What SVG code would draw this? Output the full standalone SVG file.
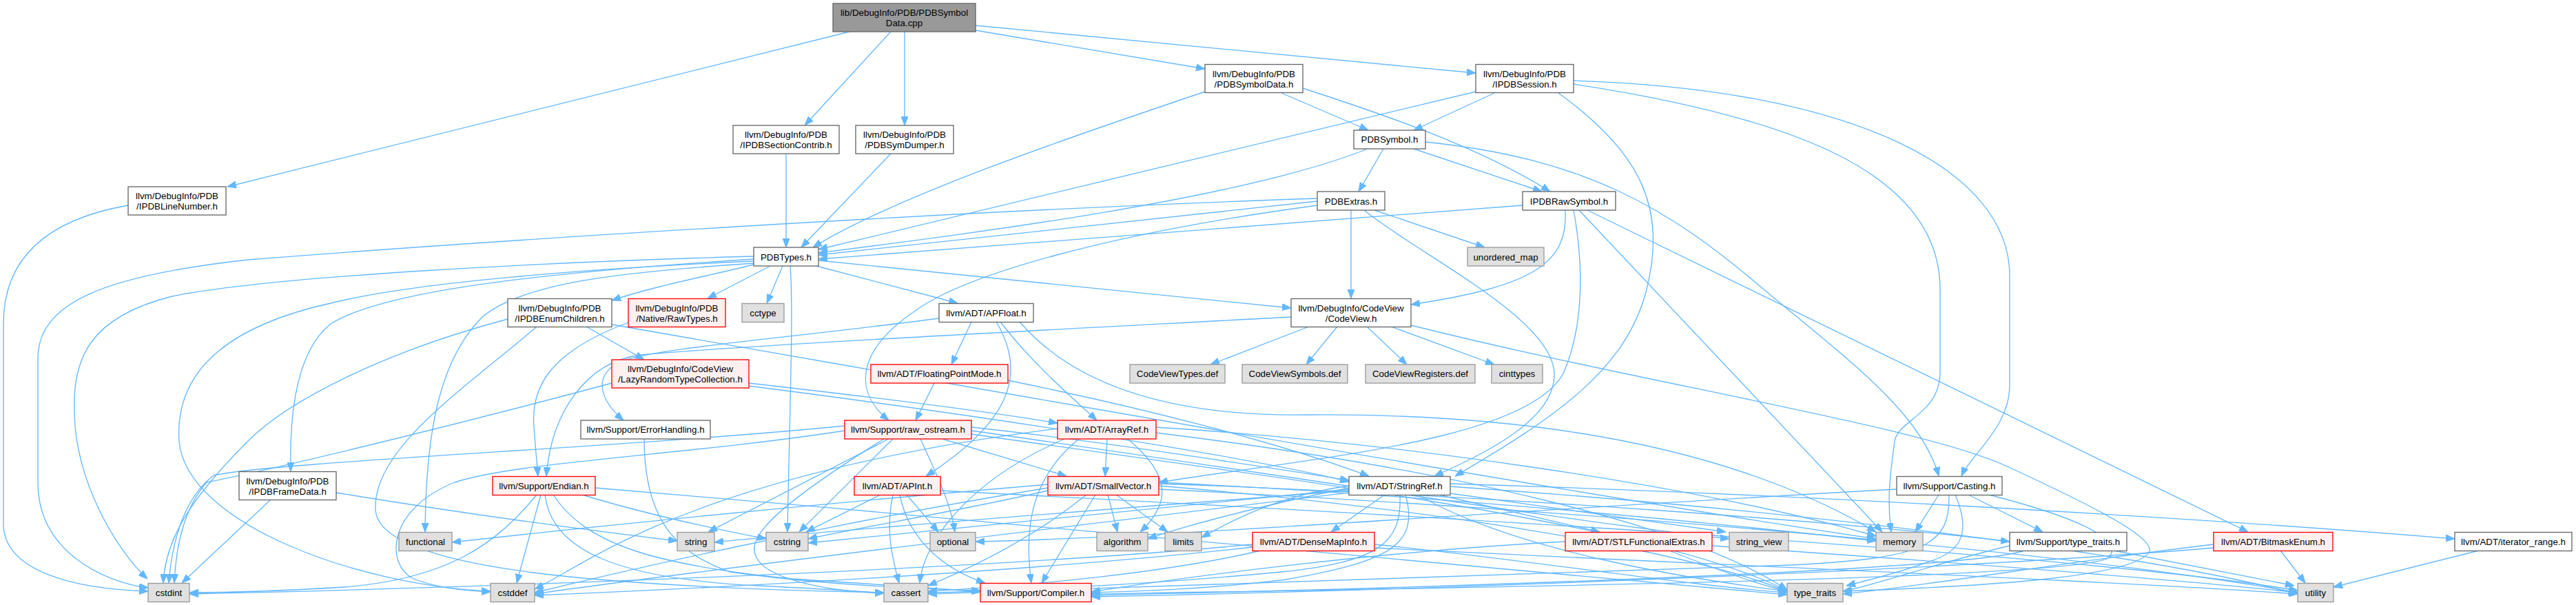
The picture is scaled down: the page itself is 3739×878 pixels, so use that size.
<svg xmlns="http://www.w3.org/2000/svg" width="3739" height="878" viewBox="0 0 3739 878">
<style>
.n rect{fill:#ffffff;stroke:#666666;stroke-width:1.33}
.g rect{fill:#e0e0e0;stroke:#999999;stroke-width:1.33}
.r rect{fill:#fff0f0;stroke:#ff0000;stroke-width:1.33}
.root rect{fill:#999999;stroke:#666666;stroke-width:1.33}
text{font-family:"Liberation Sans",Arial,Helvetica,sans-serif;font-size:13.33px;text-anchor:middle;fill:#000000}
#edges path{fill:none;stroke:#63b8ff;stroke-width:1.33;marker-end:url(#a)}
</style>
<defs>
<marker id="a" viewBox="0 0 13 10" refX="13" refY="5" markerWidth="13" markerHeight="10" markerUnits="userSpaceOnUse" orient="auto"><path d="M0,0 L13,5 L0,10 Z" fill="#63b8ff" stroke="#63b8ff" stroke-width="1"/></marker>
</defs>
<rect x="0" y="0" width="3739" height="878" fill="#ffffff"/>
<g id="edges">
<path d="M1233,46 L330,271"/>
<path d="M1293,46 L1168,182"/>
<path d="M1313,46 L1313,182"/>
<path d="M1416,44 L1749,100"/>
<path d="M1416,37 L2142,106"/>
<path d="M186,298 C60,320 5,380 5,470 L5,760 C5,830 110,855 215,858"/>
<path d="M1141,223 L1141,359"/>
<path d="M1293,223 L1163,359"/>
<path d="M1749,133 C1550,200 1300,285 1180,359"/>
<path d="M1860,135 L1986,189"/>
<path d="M1891,128 C2020,170 2150,215 2250,278"/>
<path d="M2142,133 L1188,362"/>
<path d="M2169,135 L2052,189"/>
<path d="M2262,135 C2380,220 2420,300 2390,420 C2360,540 2250,610 2112,691"/>
<path d="M2284,122 C2600,170 2816,250 2816,420 L2816,540 C2816,600 2755,610 2750,640 C2745,680 2738,720 2745,772"/>
<path d="M2284,117 C2700,130 2917,250 2917,400 L2917,560 C2917,620 2860,660 2847,691"/>
<path d="M1985,216 C1800,290 1400,340 1188,367"/>
<path d="M2008,216 L1972,278"/>
<path d="M2052,216 L2238,278"/>
<path d="M2069,206 C2300,230 2420,300 2560,420 C2680,520 2790,600 2814,691"/>
<path d="M1912,292 L1188,370"/>
<path d="M1912,298 C1600,340 1400,400 1330,450 C1240,510 1240,570 1290,610"/>
<path d="M1912,288 C1400,305 700,350 360,377 C150,400 55,440 55,520 L55,700 C55,800 150,845 215,853"/>
<path d="M1961,305 L1961,433"/>
<path d="M1980,305 C2060,370 2250,460 2256,540 C2260,610 2150,660 2082,691"/>
<path d="M1995,305 L2155,359"/>
<path d="M2210,298 L1188,376"/>
<path d="M2272,305 C2276,380 2230,415 2048,442"/>
<path d="M2284,305 C2298,380 2300,470 2270,540 C2220,640 1900,665 1682,700"/>
<path d="M2292,305 L2732,772"/>
<path d="M2304,305 L3263,772"/>
<path d="M1094,384 C1030,400 950,415 888,436"/>
<path d="M1118,386 L1027,433"/>
<path d="M1136,386 L1113,440"/>
<path d="M1147,386 C1152,450 1146,600 1143,772"/>
<path d="M1185,386 L1390,440"/>
<path d="M1188,378 L1874,447"/>
<path d="M1094,376 C800,395 560,420 480,470 C430,510 420,600 422,684"/>
<path d="M1094,382 C900,395 760,410 700,460 C640,520 618,620 617,772"/>
<path d="M1094,372 C800,380 400,400 250,430 C130,460 105,520 108,600 C110,700 170,800 214,840"/>
<path d="M1094,379 C850,390 600,410 480,440 C300,480 255,560 260,640 C270,760 520,850 712,858"/>
<path d="M737,463 C560,510 420,580 360,640 C280,720 240,780 237,846"/>
<path d="M779,474 C680,560 540,650 545,740 C550,830 900,852 1283,860"/>
<path d="M851,474 L935,522"/>
<path d="M888,471 C1400,560 2300,720 2723,782"/>
<path d="M912,468 C800,510 770,560 775,620 C778,660 780,680 781,691"/>
<path d="M1900,474 L1757,529"/>
<path d="M1941,474 L1896,529"/>
<path d="M1984,474 L2042,529"/>
<path d="M2019,474 L2169,529"/>
<path d="M1874,460 C1500,480 1100,500 930,515 C850,525 800,600 793,691"/>
<path d="M2048,472 C2400,560 2800,620 2920,680 C3050,740 3125,780 3120,800 C3100,840 2850,852 2675,858"/>
<path d="M1410,467 L1381,529"/>
<path d="M1446,467 C1490,540 1470,610 1344,691"/>
<path d="M1452,467 C1500,530 1560,580 1592,610"/>
<path d="M1363,462 C1150,490 950,505 900,525 C860,545 870,580 905,610"/>
<path d="M1480,467 C1560,560 1700,605 1900,602 C2200,600 2500,640 2723,772"/>
<path d="M1356,556 L1329,610"/>
<path d="M1463,552 C1650,590 1850,640 1987,691"/>
<path d="M935,637 C935,740 970,800 1060,830 C1200,850 1350,855 1423,857"/>
<path d="M1368,637 L1548,691"/>
<path d="M1290,637 L1028,772"/>
<path d="M1296,637 L1160,772"/>
<path d="M1336,637 C1360,690 1380,730 1386,772"/>
<path d="M1283,637 C1150,720 1090,770 1095,800 C1100,840 1200,858 1283,861"/>
<path d="M1226,618 C900,650 400,670 310,690 C270,720 250,780 245,846"/>
<path d="M1226,625 C1000,660 750,670 660,700 C560,740 560,820 600,840 C640,855 680,858 712,859"/>
<path d="M1410,620 C1600,640 1850,680 1958,697"/>
<path d="M1410,625 C1800,680 2300,760 2510,782"/>
<path d="M1410,630 C1900,700 2400,760 2594,857"/>
<path d="M1607,637 L1604,691"/>
<path d="M1566,637 C1500,690 1485,760 1497,846"/>
<path d="M1637,637 C1700,690 1700,730 1655,772"/>
<path d="M1535,622 C1000,690 850,820 776,855"/>
<path d="M1545,637 C1400,700 1340,790 1335,846"/>
<path d="M1678,620 C2000,640 2450,700 2723,778"/>
<path d="M1678,628 C2100,680 2450,760 2594,856"/>
<path d="M1278,718 L1170,772"/>
<path d="M1316,718 L1362,772"/>
<path d="M1296,718 C1285,770 1295,810 1305,846"/>
<path d="M1306,718 C1320,790 1380,830 1430,846"/>
<path d="M1365,712 C2000,745 3000,800 3335,857"/>
<path d="M1608,718 L1622,772"/>
<path d="M1620,718 L1695,772"/>
<path d="M1590,718 L1512,846"/>
<path d="M1577,718 C1500,780 1420,820 1347,850"/>
<path d="M1521,712 C1400,740 1250,765 1173,782"/>
<path d="M1521,708 C1200,760 900,830 776,860"/>
<path d="M1521,703 C1200,730 900,760 656,787"/>
<path d="M1682,700 C2100,720 2500,760 2723,785"/>
<path d="M1682,705 C2100,740 2450,800 2594,858"/>
<path d="M1682,710 C2300,740 3000,800 3335,860"/>
<path d="M1682,702 C2200,720 2700,760 2917,786"/>
<path d="M2010,718 L1932,772"/>
<path d="M2088,718 L2322,772"/>
<path d="M2105,716 L2505,772"/>
<path d="M2058,718 C2200,800 2450,840 2594,858"/>
<path d="M2105,706 C2600,740 3100,800 3335,862"/>
<path d="M2105,702 C2700,720 3300,760 3563,782"/>
<path d="M1958,705 C1850,720 1780,760 1744,780"/>
<path d="M1958,708 C1800,740 1700,770 1666,782"/>
<path d="M1958,712 C1600,740 1200,770 1037,787"/>
<path d="M1958,710 C1600,745 1300,775 1173,788"/>
<path d="M1958,715 C1500,770 1000,830 776,862"/>
<path d="M2032,718 C2035,790 2000,815 1860,830 C1650,850 1450,858 1347,860"/>
<path d="M2040,718 C2060,790 2020,815 1860,842 C1750,855 1650,858 1584,860"/>
<path d="M2857,718 L2965,772"/>
<path d="M2753,710 C2200,740 1700,780 1416,786"/>
<path d="M2814,718 L2780,772"/>
<path d="M2829,718 C2830,790 2800,810 2600,820 C2100,840 1600,855 1347,862"/>
<path d="M2838,718 C2860,770 2850,800 2800,815 C2760,830 2700,845 2680,850"/>
<path d="M2887,718 C3050,760 3080,790 3060,810 C3000,840 2200,852 1584,862"/>
<path d="M1995,790 C2200,810 2450,850 2594,860"/>
<path d="M1995,795 C2500,820 3100,845 3335,862"/>
<path d="M1818,790 C1400,830 600,855 275,862"/>
<path d="M1818,794 C1500,830 1000,855 776,864"/>
<path d="M1830,799 C1700,830 1500,850 1347,858"/>
<path d="M2423,799 C2500,830 2560,850 2594,858"/>
<path d="M2485,792 C2900,820 3200,845 3335,860"/>
<path d="M2272,786 C2000,800 1700,840 1584,859"/>
<path d="M3068,799 L3330,850"/>
<path d="M2917,792 C2800,820 2720,850 2675,858"/>
<path d="M2938,799 C2850,830 2000,855 1584,864"/>
<path d="M3310,799 L3346,846"/>
<path d="M3213,790 C3000,815 2800,850 2675,862"/>
<path d="M3213,795 C2800,830 2000,858 1584,866"/>
<path d="M3598,799 L3387,852"/>
<path d="M779,718 C720,790 650,840 500,852 C400,858 320,860 275,860"/>
<path d="M785,718 L750,846"/>
<path d="M791,718 C800,800 900,840 1100,850 C1200,855 1250,858 1283,861"/>
<path d="M803,718 C850,790 950,820 1150,840 C1300,850 1380,855 1423,859"/>
<path d="M845,718 C950,750 1050,770 1112,782"/>
<path d="M864,708 C1500,760 2200,830 2594,863"/>
<path d="M393,725 L264,846"/>
<path d="M488,715 C700,750 900,775 983,785"/>
<path d="M1087,556 C1300,580 1450,600 1535,614"/>
<path d="M888,556 C650,620 400,680 300,700 C265,740 255,800 253,846"/>
<path d="M1087,560 C1400,600 1800,660 1958,699"/>
</g>
<g id="node-root" class="root"><rect x="1209" y="5" width="207" height="41"/><text x="1312.5" y="23">lib/DebugInfo/PDB/PDBSymbol</text><text x="1312.5" y="38">Data.cpp</text></g>
<g id="node-PDBSymbolData" class="n"><rect x="1749" y="93.5" width="142" height="41"/><text x="1820" y="111.5">llvm/DebugInfo/PDB</text><text x="1820" y="126.5">/PDBSymbolData.h</text></g>
<g id="node-IPDBSession" class="n"><rect x="2142" y="93.5" width="142" height="41"/><text x="2213" y="111.5">llvm/DebugInfo/PDB</text><text x="2213" y="126.5">/IPDBSession.h</text></g>
<g id="node-IPDBSectionContrib" class="n"><rect x="1064" y="182" width="154" height="41"/><text x="1141" y="200">llvm/DebugInfo/PDB</text><text x="1141" y="215">/IPDBSectionContrib.h</text></g>
<g id="node-PDBSymDumper" class="n"><rect x="1242" y="182" width="142" height="41"/><text x="1313" y="200">llvm/DebugInfo/PDB</text><text x="1313" y="215">/PDBSymDumper.h</text></g>
<g id="node-PDBSymbol" class="n"><rect x="1965" y="189" width="104" height="27"/><text x="2017" y="207">PDBSymbol.h</text></g>
<g id="node-IPDBLineNumber" class="n"><rect x="186" y="271" width="142" height="41"/><text x="257" y="289">llvm/DebugInfo/PDB</text><text x="257" y="304">/IPDBLineNumber.h</text></g>
<g id="node-PDBExtras" class="n"><rect x="1912" y="278" width="98" height="27"/><text x="1961" y="296.5">PDBExtras.h</text></g>
<g id="node-IPDBRawSymbol" class="n"><rect x="2210" y="278" width="135" height="27"/><text x="2277.5" y="296.5">IPDBRawSymbol.h</text></g>
<g id="node-PDBTypes" class="n"><rect x="1094" y="359" width="94" height="27"/><text x="1141" y="377.5">PDBTypes.h</text></g>
<g id="node-unordered_map" class="g"><rect x="2130" y="359" width="111" height="27"/><text x="2185.5" y="377.5">unordered_map</text></g>
<g id="node-IPDBEnumChildren" class="n"><rect x="737" y="433.5" width="151" height="41"/><text x="812.5" y="451.5">llvm/DebugInfo/PDB</text><text x="812.5" y="466.5">/IPDBEnumChildren.h</text></g>
<g id="node-RawTypes" class="r"><rect x="912" y="433.5" width="141" height="41"/><text x="982.5" y="451.5">llvm/DebugInfo/PDB</text><text x="982.5" y="466.5">/Native/RawTypes.h</text></g>
<g id="node-cctype" class="g"><rect x="1077" y="440.5" width="61" height="27"/><text x="1107.5" y="458.5">cctype</text></g>
<g id="node-APFloat" class="n"><rect x="1363" y="440.5" width="137" height="27"/><text x="1431.5" y="458.5">llvm/ADT/APFloat.h</text></g>
<g id="node-CodeView" class="n"><rect x="1874" y="433.5" width="174" height="41"/><text x="1961" y="451.5">llvm/DebugInfo/CodeView</text><text x="1961" y="466.5">/CodeView.h</text></g>
<g id="node-LazyRandomTypeCollection" class="r"><rect x="888" y="522" width="199" height="41"/><text x="987.5" y="540">llvm/DebugInfo/CodeView</text><text x="987.5" y="555">/LazyRandomTypeCollection.h</text></g>
<g id="node-FloatingPointMode" class="r"><rect x="1264" y="529" width="199" height="27"/><text x="1363.5" y="547">llvm/ADT/FloatingPointMode.h</text></g>
<g id="node-CodeViewTypes" class="g"><rect x="1640" y="529" width="138" height="27"/><text x="1709" y="547">CodeViewTypes.def</text></g>
<g id="node-CodeViewSymbols" class="g"><rect x="1803" y="529" width="153" height="27"/><text x="1879.5" y="547">CodeViewSymbols.def</text></g>
<g id="node-CodeViewRegisters" class="g"><rect x="1982" y="529" width="159" height="27"/><text x="2061.5" y="547">CodeViewRegisters.def</text></g>
<g id="node-cinttypes" class="g"><rect x="2165" y="529" width="74" height="27"/><text x="2202" y="547">cinttypes</text></g>
<g id="node-ErrorHandling" class="n"><rect x="843" y="610" width="188" height="27"/><text x="937" y="628">llvm/Support/ErrorHandling.h</text></g>
<g id="node-raw_ostream" class="r"><rect x="1226" y="610" width="184" height="27"/><text x="1318" y="628">llvm/Support/raw_ostream.h</text></g>
<g id="node-ArrayRef" class="r"><rect x="1535" y="610" width="143" height="27"/><text x="1606.5" y="628">llvm/ADT/ArrayRef.h</text></g>
<g id="node-IPDBFrameData" class="n"><rect x="347" y="684.5" width="141" height="41"/><text x="417.5" y="702.5">llvm/DebugInfo/PDB</text><text x="417.5" y="717.5">/IPDBFrameData.h</text></g>
<g id="node-Endian" class="r"><rect x="715" y="691.5" width="149" height="27"/><text x="789.5" y="709.5">llvm/Support/Endian.h</text></g>
<g id="node-APInt" class="r"><rect x="1240" y="691.5" width="125" height="27"/><text x="1302.5" y="709.5">llvm/ADT/APInt.h</text></g>
<g id="node-SmallVector" class="r"><rect x="1521" y="691.5" width="161" height="27"/><text x="1601.5" y="709.5">llvm/ADT/SmallVector.h</text></g>
<g id="node-StringRef" class="n"><rect x="1958" y="691.5" width="147" height="27"/><text x="2031.5" y="709.5">llvm/ADT/StringRef.h</text></g>
<g id="node-Casting" class="n"><rect x="2753" y="691.5" width="153" height="27"/><text x="2829.5" y="709.5">llvm/Support/Casting.h</text></g>
<g id="node-functional" class="g"><rect x="579" y="772.5" width="77" height="27"/><text x="617.5" y="790.5">functional</text></g>
<g id="node-string" class="g"><rect x="983" y="772.5" width="54" height="27"/><text x="1010" y="790.5">string</text></g>
<g id="node-cstring" class="g"><rect x="1112" y="772.5" width="61" height="27"/><text x="1142.5" y="790.5">cstring</text></g>
<g id="node-optional" class="g"><rect x="1350" y="772.5" width="66" height="27"/><text x="1383" y="790.5">optional</text></g>
<g id="node-algorithm" class="g"><rect x="1592" y="772.5" width="74" height="27"/><text x="1629" y="790.5">algorithm</text></g>
<g id="node-limits" class="g"><rect x="1691" y="772.5" width="53" height="27"/><text x="1717.5" y="790.5">limits</text></g>
<g id="node-DenseMapInfo" class="r"><rect x="1818" y="772.5" width="177" height="27"/><text x="1906.5" y="790.5">llvm/ADT/DenseMapInfo.h</text></g>
<g id="node-STLFunctionalExtras" class="r"><rect x="2272" y="772.5" width="213" height="27"/><text x="2378.5" y="790.5">llvm/ADT/STLFunctionalExtras.h</text></g>
<g id="node-string_view" class="g"><rect x="2510" y="772.5" width="86" height="27"/><text x="2553" y="790.5">string_view</text></g>
<g id="node-memory" class="g"><rect x="2723" y="772.5" width="68" height="27"/><text x="2757" y="790.5">memory</text></g>
<g id="node-Support_type_traits" class="n"><rect x="2917" y="772.5" width="170" height="27"/><text x="3002" y="790.5">llvm/Support/type_traits.h</text></g>
<g id="node-BitmaskEnum" class="r"><rect x="3213" y="772.5" width="173" height="27"/><text x="3299.5" y="790.5">llvm/ADT/BitmaskEnum.h</text></g>
<g id="node-iterator_range" class="n"><rect x="3563" y="772.5" width="170" height="27"/><text x="3648" y="790.5">llvm/ADT/iterator_range.h</text></g>
<g id="node-cstdint" class="g"><rect x="215" y="846.5" width="60" height="27"/><text x="245" y="864.5">cstdint</text></g>
<g id="node-cstddef" class="g"><rect x="712" y="846.5" width="64" height="27"/><text x="744" y="864.5">cstddef</text></g>
<g id="node-cassert" class="g"><rect x="1283" y="846.5" width="64" height="27"/><text x="1315" y="864.5">cassert</text></g>
<g id="node-Compiler" class="r"><rect x="1423" y="846.5" width="161" height="27"/><text x="1503.5" y="864.5">llvm/Support/Compiler.h</text></g>
<g id="node-type_traits" class="g"><rect x="2594" y="846.5" width="81" height="27"/><text x="2634.5" y="864.5">type_traits</text></g>
<g id="node-utility" class="g"><rect x="3335" y="846.5" width="52" height="27"/><text x="3361" y="864.5">utility</text></g>
</svg>
